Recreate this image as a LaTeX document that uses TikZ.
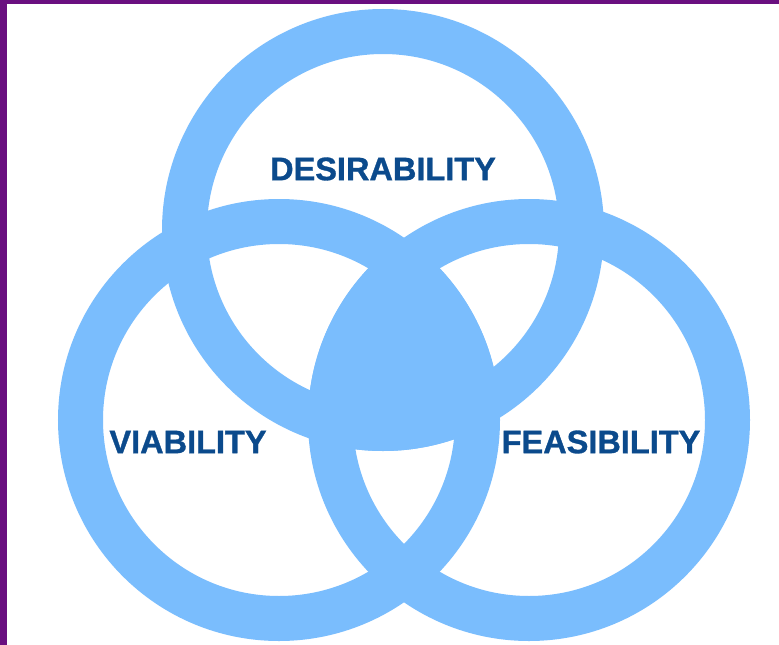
\documentclass[tikz,border=0pt]{standalone}
\usepackage{fontspec}
\setmainfont{Liberation Sans}
\newfontfamily\ringfont{Liberation Sans}[BoldFeatures={FakeBold=1}]
\usepackage{xcolor}
\usepackage{tikz}

\definecolor{ringblue}{HTML}{7ABDFD}
\definecolor{labelblue}{HTML}{0B4A8C}
\definecolor{framepurple}{HTML}{6A0F80}

\tikzset{
  ring/.style={circle, draw=ringblue, line width=45pt, minimum size=397pt, inner sep=0pt},
  label/.style={text=labelblue, font=\ringfont\fontsize{32.5}{34}\selectfont\bfseries}
}

\begin{document}
\begin{tikzpicture}[x=1pt, y=-1pt]
  % frame
  \useasboundingbox (0,0) rectangle (779,645);
  \fill[framepurple] (0,0) rectangle (779,645);
  \fill[white] (7,4) rectangle (779,645);
  % three rings
  \node[ring] (desire) at (383,230) {};
  \node[ring] (viable) at (279,420) {};
  \node[ring] (feasible) at (529,420) {};
  % overlap of all three
  \begin{scope}
    \clip (viable.center) circle (221pt);
    \clip (feasible.center) circle (221pt);
    \fill[ringblue] (desire.center) circle (221pt);
  \end{scope}
  % labels
  \node[label] (desirability) at (383,169) {DESIRABILITY};
  \node[label] (viability) at (188,442) {VIABILITY};
  \node[label] (feasibility) at (601,442) {FEASIBILITY};
\end{tikzpicture}
\end{document}
